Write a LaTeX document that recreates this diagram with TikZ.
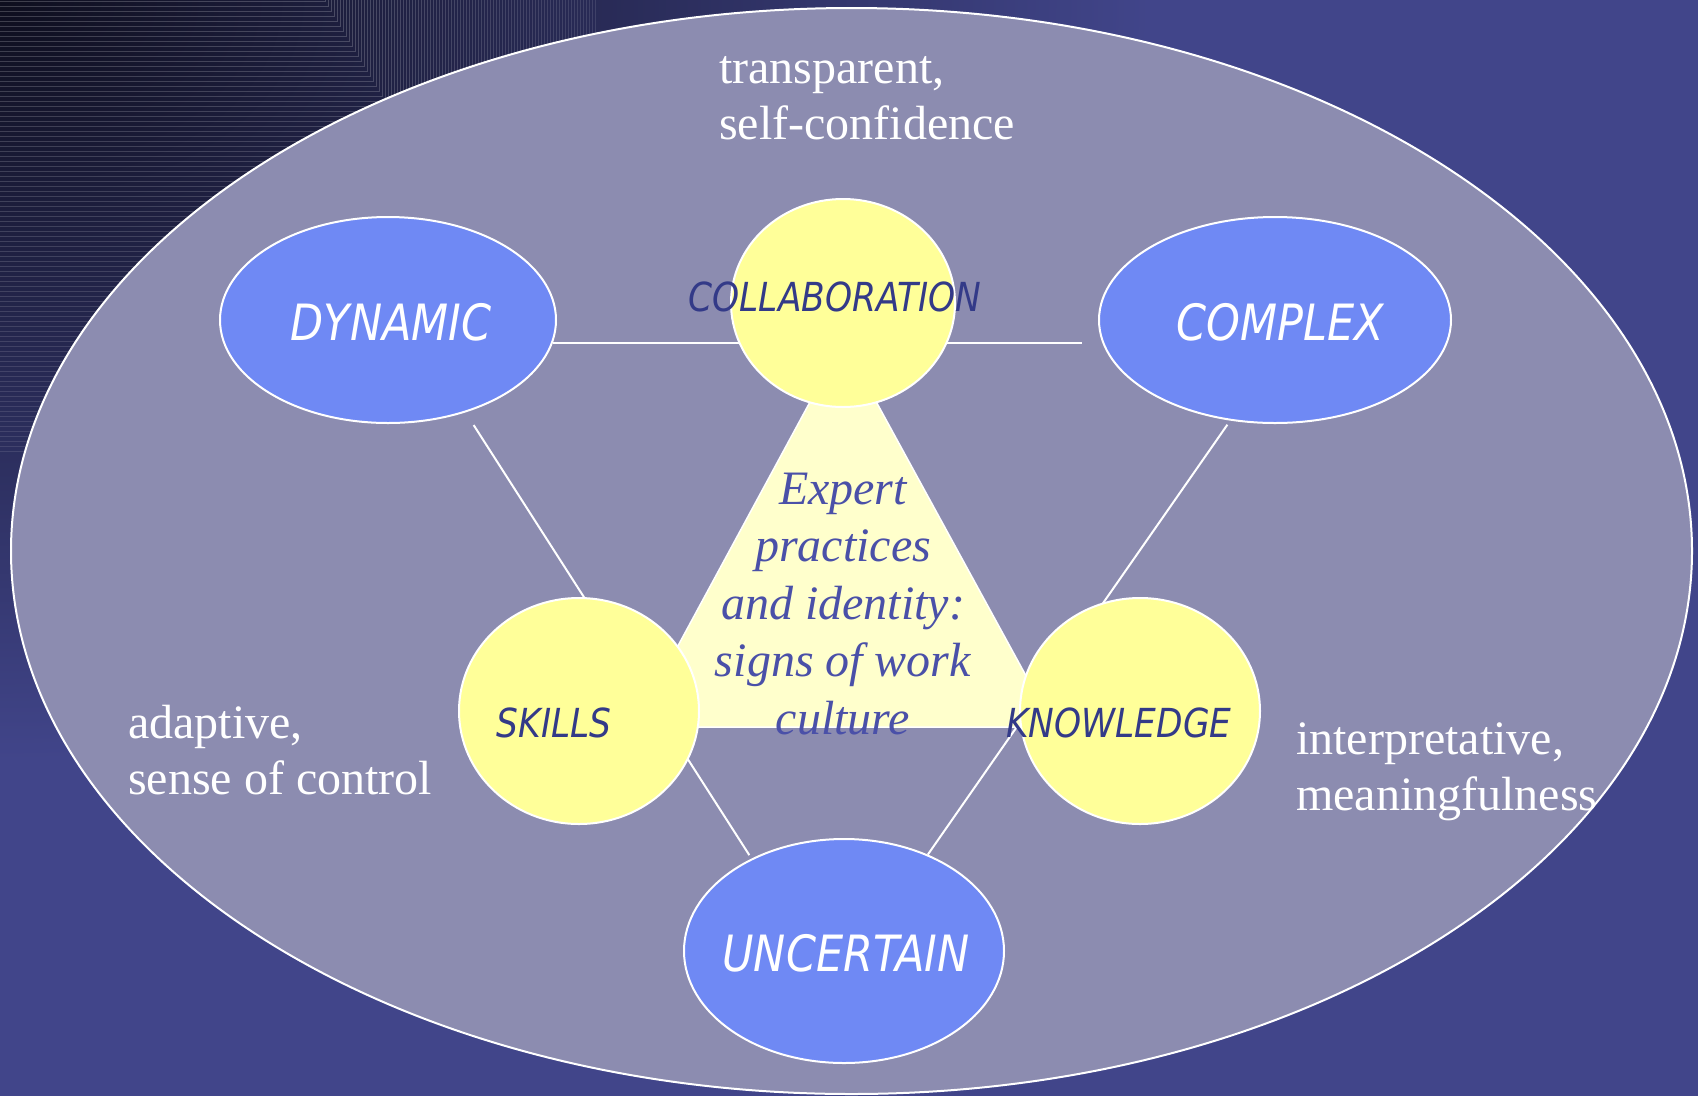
\documentclass[tikz,border=0pt]{standalone}
\usepackage{fontspec}
\setmainfont{Liberation Serif}
\newfontfamily\ovalfont{DejaVu Sans}[FakeStretch=0.86]
\usepackage{tikz}
\usetikzlibrary{shapes.geometric, backgrounds}
\usetikzlibrary{positioning}
\definecolor{bgblue}{HTML}{41458A}
\definecolor{bgdark}{HTML}{0E0E1E}
\definecolor{ovalgray}{HTML}{8C8CB0}
\definecolor{ovalblue}{HTML}{6F89F4}
\definecolor{discyellow}{HTML}{FFFF99}
\definecolor{paleyellow}{HTML}{FFFFCC}
\definecolor{darkink}{HTML}{333A88}
\definecolor{midink}{HTML}{4A50A8}
\tikzstyle{link} = [draw=white, line width=2pt]
\tikzstyle{sidetext} = [text=white, align=left, inner sep=0pt, font=\fontsize{48}{56}\selectfont]

\begin{document}
\begin{tikzpicture}[x=1pt, y=-1pt,
        blueoval/.style={
            ellipse,
            draw=white,
            line width=2pt,
            inner sep=0pt,
            fill=ovalblue
        },
        yellowdisc/.style={
            ellipse,
            draw=white,
            line width=2pt,
            inner sep=0pt,
            fill=discyellow % yellow for the practice circles
        },
        whitelbl/.style={
            text=white, inner sep=0pt,
            font=\ovalfont\itshape\fontsize{50}{60}\selectfont
        },
        darklbl/.style={
            text=darkink, inner sep=0pt,
            font=\ovalfont\itshape\fontsize{40}{48}\selectfont
        }
    ]
        \useasboundingbox (0,0) rectangle (1698,1096);

        % Background and corner lines
        \begin{scope}[on background layer]
            \fill[bgblue] (0,0) rectangle (1698,1096);
            \begin{scope}
                \clip (0,0) rectangle (1698,1096);
                \shade[inner color=bgdark, outer color=bgblue] (0,0) ellipse [x radius=1150, y radius=760];
                \foreach \i [evaluate=\i as \op using 0.2-0.001*\i] in {0,...,90}
                    \draw[white, draw opacity=\op, line width=0.8pt] (0,{1+5*\i}) -| ({325+3*\i},0);
            \end{scope}
            % Big oval
            \node[ellipse, draw=white, line width=2pt, fill=ovalgray, inner sep=0pt,
                  minimum width=1681, minimum height=1086] (field) at (851.5,551) {};
        \end{scope}

        % Blue ovals
        \node[blueoval, minimum width=336, minimum height=206] (dynamic) at (388,320) {};
        \node[blueoval, minimum width=352, minimum height=206] (complex) at (1275,320) {};
        \node[blueoval, minimum width=320, minimum height=224] (uncertain) at (844,951) {};

        % Yellow circles
        \node[yellowdisc, minimum width=224, minimum height=208] (collab) at (843,303) {};
        \node[yellowdisc, minimum width=240, minimum height=226] (skills) at (579,711) {};
        \node[yellowdisc, minimum width=240, minimum height=226] (knowledge) at (1140,711) {};

        % Lines and triangle behind the ovals
        \begin{scope}[on background layer]
            \draw[link, shorten >=16pt] (dynamic.-8) -- (dynamic.-8 -| complex.west);
            \draw[link, shorten <=15pt, shorten >=4pt] (dynamic.-50) -- (uncertain.135);
            \draw[link, shorten <=5pt] (complex.-114) -- (uncertain.49);

            \coordinate (apex) at (843,341);
            \coordinate (baseleft) at (634,727);
            \coordinate (baseright) at (1054,727);
            \draw[fill=paleyellow, draw=white, line width=1.5pt] (apex) -- (baseleft) -- (baseright) -- cycle;
        \end{scope}

        % Labels
        \node[whitelbl, xshift=3, yshift=-2] (dynamictxt) at (dynamic) {DYNAMIC};
        \node[whitelbl, xshift=5, yshift=-2] (complextxt) at (complex) {COMPLEX};
        \node[whitelbl, xshift=2, yshift=-2] (uncertaintxt) at (uncertain) {UNCERTAIN};
        \node[darklbl, xshift=-8, yshift=6] (collabtxt) at (collab) {COLLABORATION};
        \node[darklbl, xshift=-25, yshift=-12] (skillstxt) at (skills) {SKILLS};
        \node[darklbl, xshift=-21, yshift=-12] (knowledgetxt) at (knowledge) {KNOWLEDGE};

        % Centre text
        \node[text=midink, align=center, inner sep=0pt,
              font=\itshape\fontsize{48}{57.5}\selectfont] (expert) at (843,604)
              {Expert\\practices\\and identity:\\signs of work\\culture};

        % Side texts
        \node[sidetext, anchor=west] (toptext) at (719,98) {transparent,\\self-confidence};
        \node[sidetext, anchor=west] (lefttext) at (128,750) {adaptive,\\sense of control};
        \node[sidetext, anchor=west] (righttext) at (1296,772) {interpretative,\\meaningfulness};
    \end{tikzpicture}
\end{document}
